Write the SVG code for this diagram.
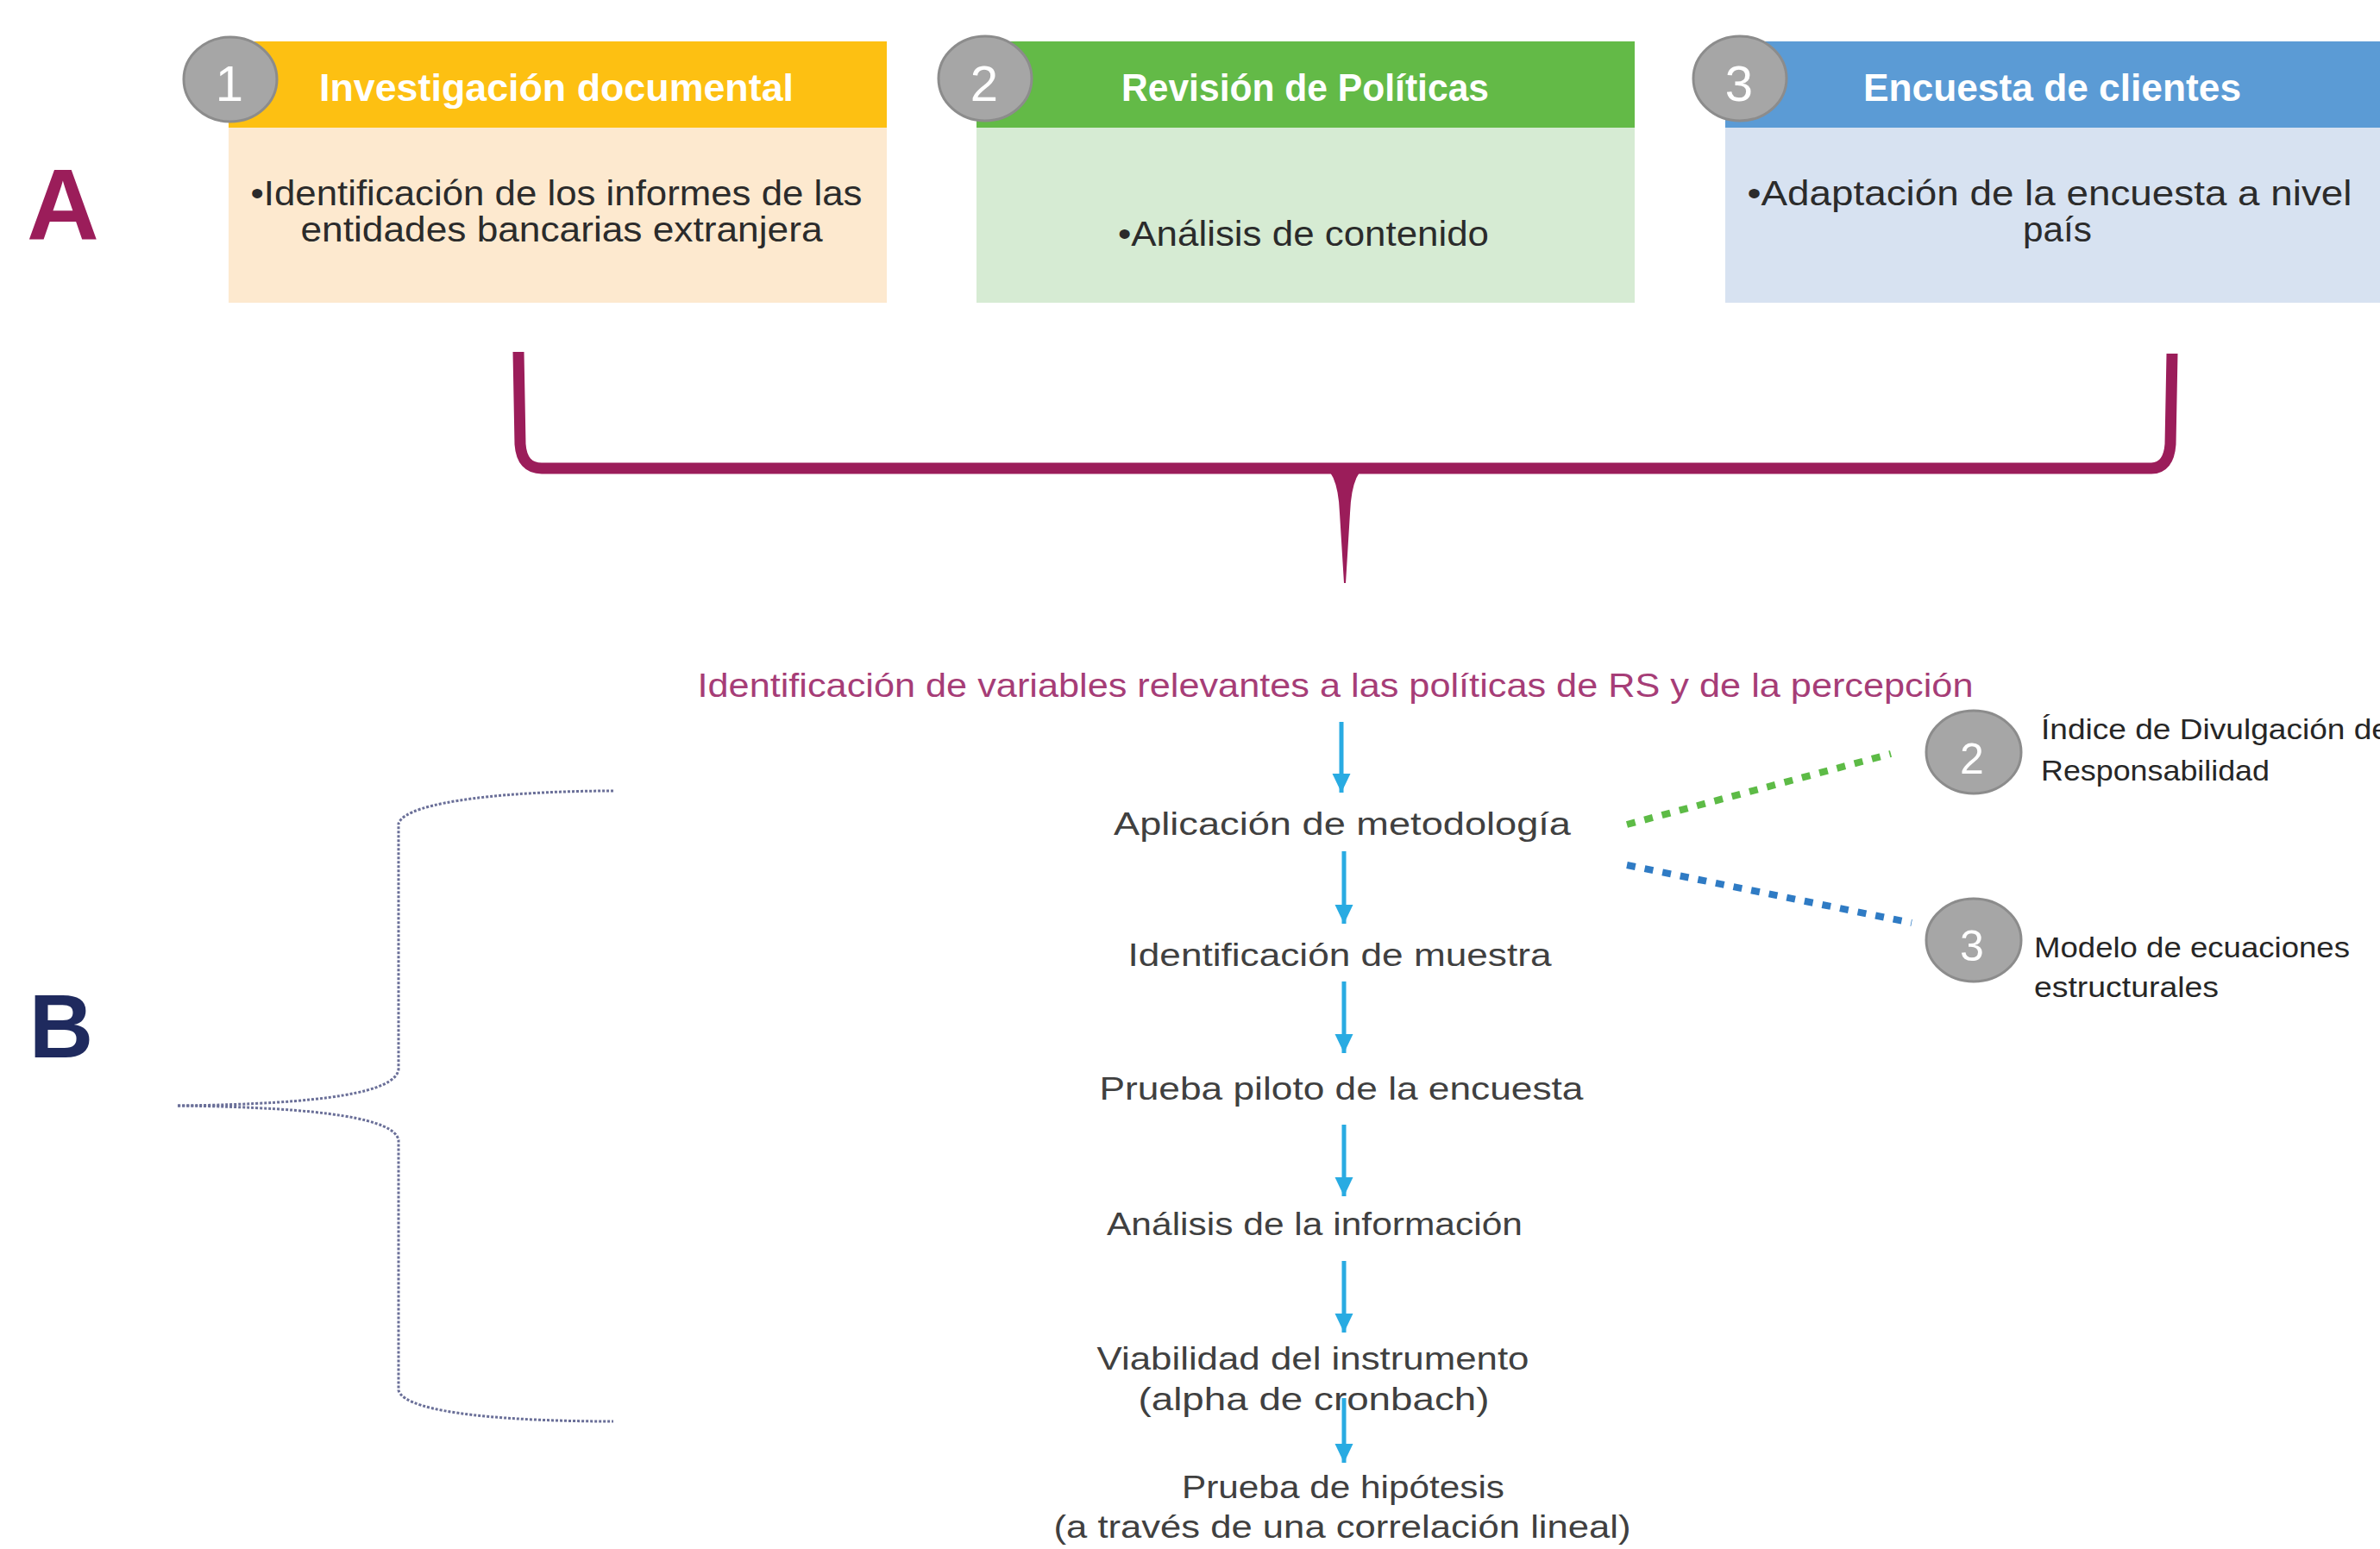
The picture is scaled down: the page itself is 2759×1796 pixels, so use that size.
<svg xmlns="http://www.w3.org/2000/svg" width="2759" height="1796" viewBox="0 0 2759 1796">
<defs>
<style>
.hd{font-family:"Liberation Sans",Arial,sans-serif;font-weight:bold;font-size:44px;fill:#ffffff;text-anchor:middle}
.bd{font-family:"Liberation Sans",Arial,sans-serif;font-size:40px;fill:#2b2b2b;text-anchor:middle}
.num{font-family:"Liberation Sans",Arial,sans-serif;font-size:58px;fill:#ffffff;text-anchor:middle}
.num2{font-family:"Liberation Sans",Arial,sans-serif;font-size:50px;fill:#ffffff;text-anchor:middle}
.circ{fill:#a6a6a6;stroke:#8c8c8c;stroke-width:3}
.flow{font-family:"Liberation Sans",Arial,sans-serif;font-size:37px;fill:#404040;text-anchor:middle}
.lab{font-family:"Liberation Sans",Arial,sans-serif;font-size:33px;fill:#262626}
.arr{stroke:#29abe2;stroke-width:5;fill:none}
</style>
<marker id="ah" markerWidth="5" markerHeight="5" refX="4.4" refY="2.5" orient="auto" markerUnits="strokeWidth">
<path d="M0,0.4 L4.4,2.5 L0,4.6 Z" fill="#29abe2"/>
</marker>
</defs>
<rect width="2759" height="1796" fill="#ffffff"/>

<g id="label-A">
<text x="73" y="278" font-family="Liberation Sans,Arial,sans-serif" font-weight="bold" font-size="116" fill="#9b1d5a" text-anchor="middle">A</text>
</g>

<g id="node-1">
<rect x="265" y="148" width="763" height="203" fill="#fde9cf"/>
<rect x="265" y="48" width="763" height="100" fill="#fdc012"/>
<ellipse class="circ" cx="267" cy="92" rx="54" ry="49"/>
<text class="num" x="266" y="117">1</text>
<text class="hd" x="645" y="117" textLength="550" lengthAdjust="spacingAndGlyphs">Investigación documental</text>
<text class="bd" x="645" y="238" textLength="709" lengthAdjust="spacingAndGlyphs">•Identificación de los informes de las</text>
<text class="bd" x="651" y="280" textLength="605" lengthAdjust="spacingAndGlyphs">entidades bancarias extranjera</text>
</g>

<g id="node-2">
<rect x="1132" y="148" width="763" height="203" fill="#d6ebd3"/>
<rect x="1132" y="48" width="763" height="100" fill="#63ba47"/>
<ellipse class="circ" cx="1142" cy="91" rx="54" ry="49"/>
<text class="num" x="1141" y="117">2</text>
<text class="hd" x="1513" y="117" textLength="426" lengthAdjust="spacingAndGlyphs">Revisión de Políticas</text>
<text class="bd" x="1511" y="285" textLength="430" lengthAdjust="spacingAndGlyphs">•Análisis de contenido</text>
</g>

<g id="node-3">
<rect x="2000" y="148" width="759" height="203" fill="#d7e2f1"/>
<rect x="2000" y="48" width="759" height="100" fill="#5b9bd5"/>
<ellipse class="circ" cx="2017" cy="91" rx="54" ry="49"/>
<text class="num" x="2016" y="117">3</text>
<text class="hd" x="2379" y="117" textLength="438" lengthAdjust="spacingAndGlyphs">Encuesta de clientes</text>
<text class="bd" x="2376" y="238" textLength="701" lengthAdjust="spacingAndGlyphs">•Adaptación de la encuesta a nivel</text>
<text class="bd" x="2385" y="280" textLength="80" lengthAdjust="spacingAndGlyphs">país</text>
</g>

<g id="brace-A" fill="#9b1d5a" stroke="#9b1d5a">
<path d="M601,408 L603,515 Q605,543 628,543 L2494,543 Q2514,543 2516,515 L2518,410" fill="none" stroke-width="13" stroke-linejoin="round"/>
<path d="M1526,537 Q1551,541 1553,595 L1558,676 L1560,676 L1565,595 Q1567,541 1592,537 Z" stroke="none"/>
</g>

<g id="label-B">
<text x="71" y="1226" font-family="Liberation Sans,Arial,sans-serif" font-weight="bold" font-size="103" fill="#1f2a5e" text-anchor="middle">B</text>
</g>

<g id="brace-B" fill="none" stroke="#6a6f98" stroke-width="3" stroke-dasharray="3 2">
<path d="M711,917 C600,917 470,928 462,955 L462,1240 C458,1266 380,1280 206,1282"/>
<path d="M206,1282 C380,1284 458,1298 462,1322 L462,1612 C470,1640 600,1648 711,1648"/>
</g>

<g id="node-variables">
<text x="1548" y="808" font-family="Liberation Sans,Arial,sans-serif" font-size="39" fill="#a63d77" text-anchor="middle" textLength="1479" lengthAdjust="spacingAndGlyphs">Identificación de variables relevantes a las políticas de RS y de la percepción</text>
</g>
<g id="node-metodologia"><text class="flow" x="1556" y="968" textLength="530" lengthAdjust="spacingAndGlyphs">Aplicación de metodología</text></g>
<g id="node-muestra"><text class="flow" x="1553" y="1120" textLength="491" lengthAdjust="spacingAndGlyphs">Identificación de muestra</text></g>
<g id="node-piloto"><text class="flow" x="1555" y="1275" textLength="561" lengthAdjust="spacingAndGlyphs">Prueba piloto de la encuesta</text></g>
<g id="node-analisis"><text class="flow" x="1524" y="1432" textLength="482" lengthAdjust="spacingAndGlyphs">Análisis de la información</text></g>
<g id="node-viabilidad">
<text class="flow" x="1522" y="1588" textLength="501" lengthAdjust="spacingAndGlyphs">Viabilidad del instrumento</text>
<text class="flow" x="1523" y="1635" textLength="407" lengthAdjust="spacingAndGlyphs">(alpha de cronbach)</text>
</g>
<g id="node-hipotesis">
<text class="flow" x="1557" y="1737" textLength="374" lengthAdjust="spacingAndGlyphs">Prueba de hipótesis</text>
<text class="flow" x="1556" y="1783" textLength="669" lengthAdjust="spacingAndGlyphs">(a través de una correlación lineal)</text>
</g>

<g id="node-indice">
<ellipse class="circ" cx="2288" cy="872" rx="55" ry="48"/>
<text class="num2" x="2286" y="897">2</text>
<text class="lab" x="2366" y="857" textLength="404" lengthAdjust="spacingAndGlyphs">Índice de Divulgación de</text>
<text class="lab" x="2366" y="905" textLength="265" lengthAdjust="spacingAndGlyphs">Responsabilidad</text>
</g>
<g id="node-modelo">
<ellipse class="circ" cx="2288" cy="1090" rx="55" ry="48"/>
<text class="num2" x="2286" y="1114">3</text>
<text class="lab" x="2358" y="1110" textLength="366" lengthAdjust="spacingAndGlyphs">Modelo de ecuaciones</text>
<text class="lab" x="2358" y="1156" textLength="214" lengthAdjust="spacingAndGlyphs">estructurales</text>
</g>

<g id="connectors">
<line class="arr" x1="1555" y1="837" x2="1555" y2="919" marker-end="url(#ah)"/>
<line class="arr" x1="1558" y1="987" x2="1558" y2="1071" marker-end="url(#ah)"/>
<line class="arr" x1="1558" y1="1138" x2="1558" y2="1221" marker-end="url(#ah)"/>
<line class="arr" x1="1558" y1="1304" x2="1558" y2="1387" marker-end="url(#ah)"/>
<line class="arr" x1="1558" y1="1462" x2="1558" y2="1545" marker-end="url(#ah)"/>
<line class="arr" x1="1558" y1="1621" x2="1558" y2="1696" marker-end="url(#ah)"/>
<line x1="1886" y1="956" x2="2192" y2="874" stroke="#5dbb46" stroke-width="8" stroke-dasharray="10 11"/>
<line x1="1886" y1="1003" x2="2216" y2="1070" stroke="#2f7bc4" stroke-width="8" stroke-dasharray="10 11"/>
</g>
</svg>
